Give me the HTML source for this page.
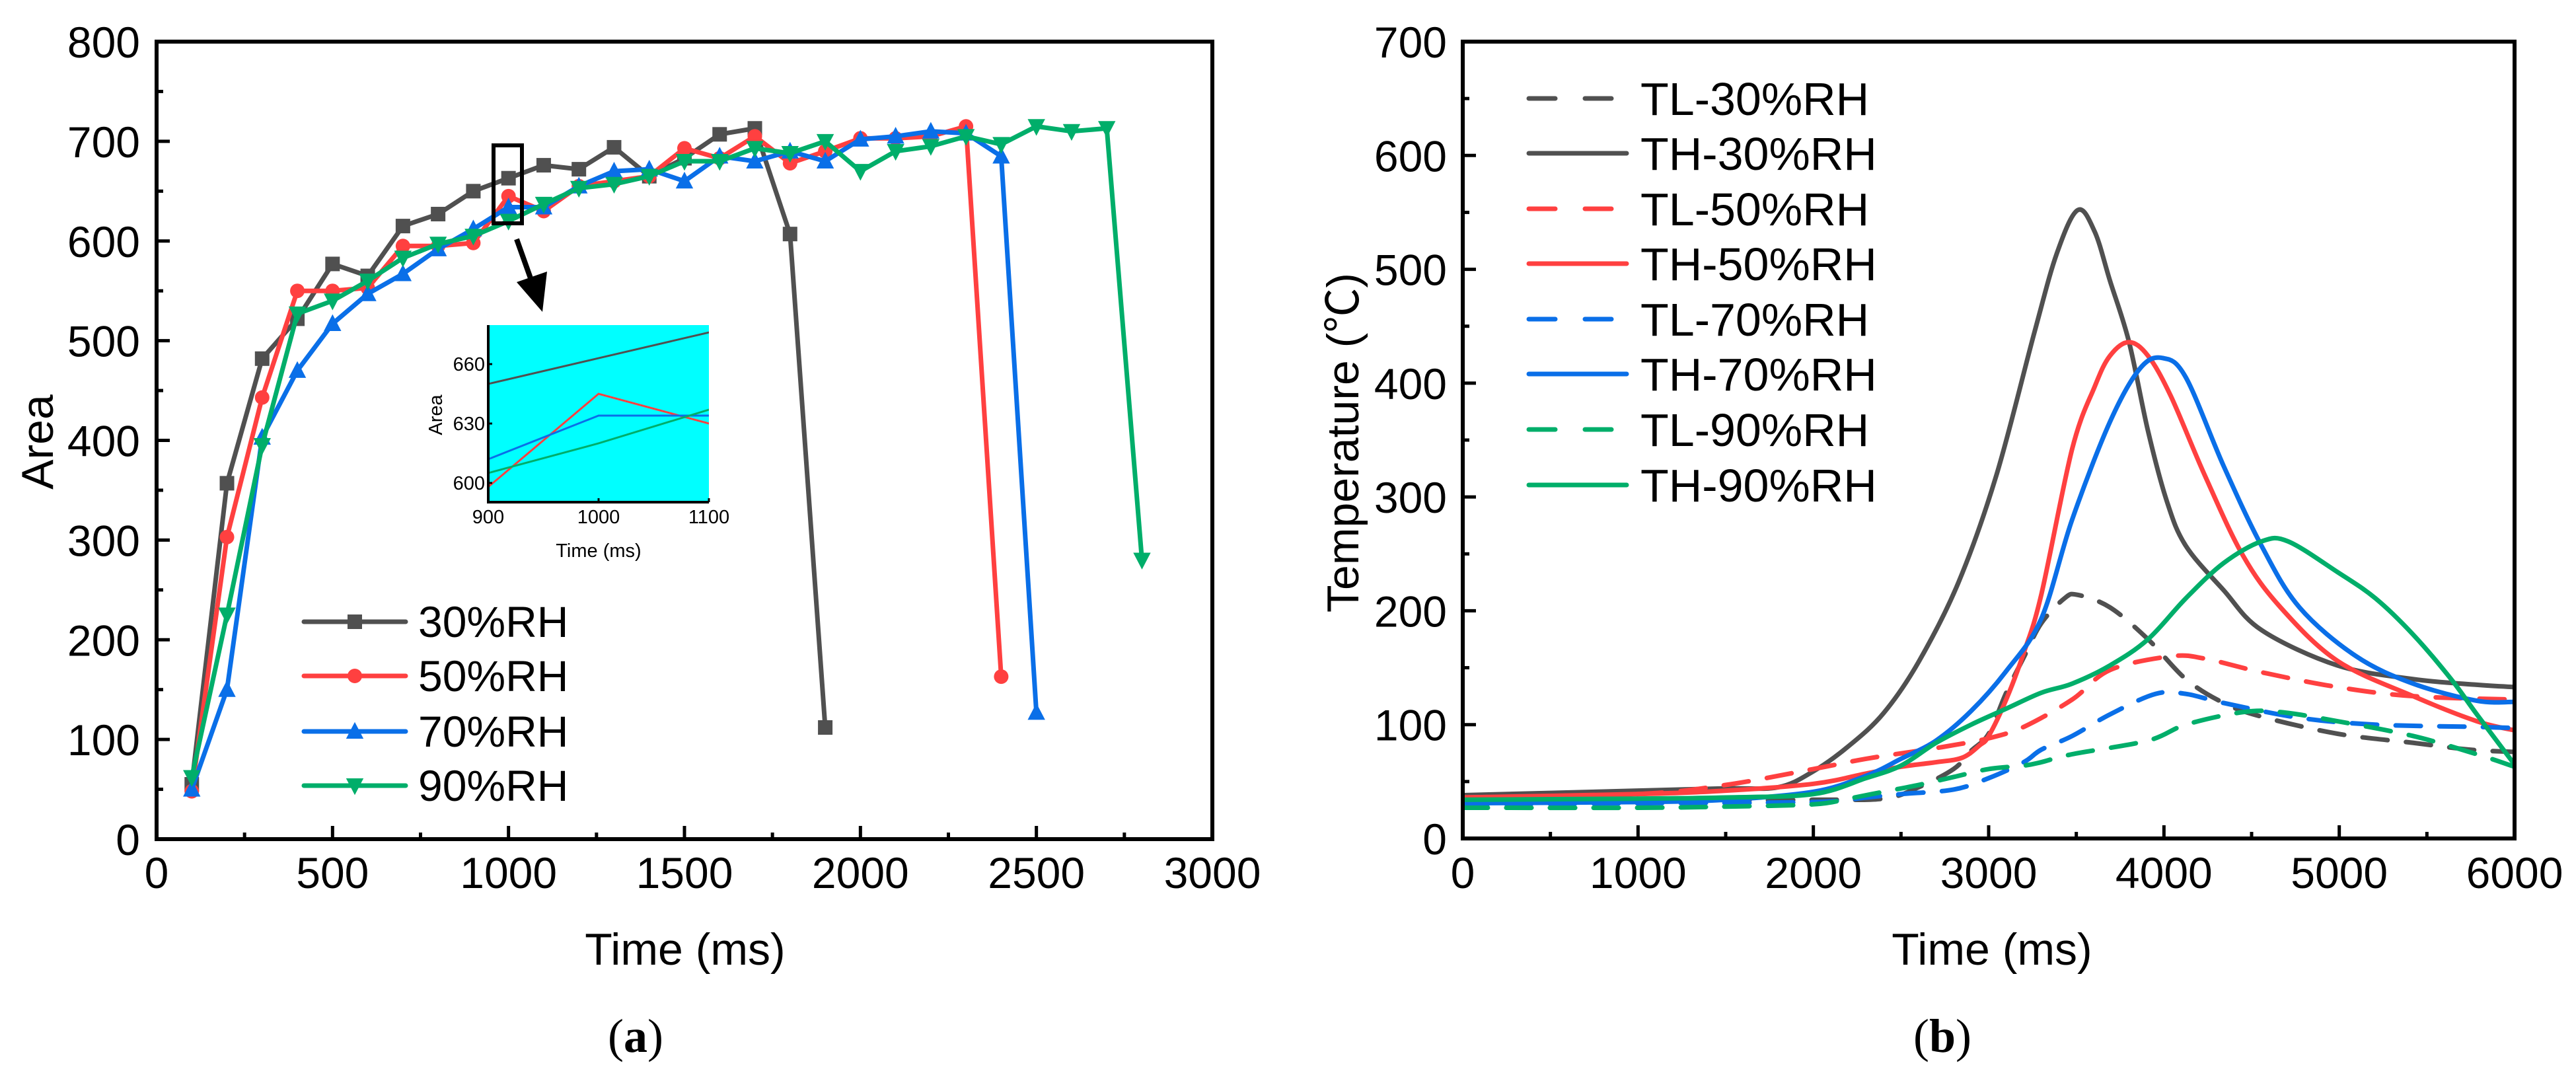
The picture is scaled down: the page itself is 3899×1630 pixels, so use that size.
<!DOCTYPE html>
<html><head><meta charset="utf-8">
<style>
html,body{margin:0;padding:0;background:#fff;width:3899px;height:1630px;overflow:hidden;}
svg{display:block;font-family:"Liberation Sans",Arial,sans-serif;}
</style></head>
<body>
<svg id="fig" width="3899" height="1630" viewBox="0 0 3899 1630" xmlns="http://www.w3.org/2000/svg">
<rect x="0" y="0" width="3899" height="1630" fill="#fff"/>
<g id="panelA"></g>
<g id="panelB"></g>
</svg>
<script>
// ---------- Panel (a) data ----------
const areaTimes30 = [100,200,300,400,500,600,700,800,900,1000,1100,1200,1300,1400,1500,1600,1700,1800,1900];
const area30 = [55,357,482,522,577,565,615,627,650,663,676,672,694,665,683,707,713,607,112];
const areaTimes50 = [100,200,300,400,500,600,700,800,900,1000,1100,1200,1300,1400,1500,1600,1700,1800,1900,2000,2100,2200,2300,2400];
const area50 = [48,303,443,550,550,553,595,595,598,645,630,655,660,665,693,683,705,678,690,703,703,705,715,163];
const areaTimes70 = [100,200,300,400,500,600,700,800,900,1000,1100,1200,1300,1400,1500,1600,1700,1800,1900,2000,2100,2200,2300,2400,2500];
const area70 = [50,150,403,470,517,547,567,592,612,634,634,655,670,672,660,685,680,690,680,702,705,710,708,685,127];
const areaTimes90 = [100,200,300,400,500,600,700,800,900,1000,1100,1200,1300,1400,1500,1600,1700,1800,1900,2000,2100,2200,2300,2400,2500,2600,2700,2800];
const area90 = [62,225,395,527,540,560,583,597,605,620,637,653,657,665,680,680,693,688,700,670,690,695,705,697,715,710,713,280];
const areaXTicks = [0,500,1000,1500,2000,2500,3000];
const areaYTicks = [0,100,200,300,400,500,600,700,800];
const areaLabels = ["30%RH","50%RH","70%RH","90%RH"];
const insetXTicks = [900,1000,1100];
const insetYTicks = [600,630,660];

// ---------- Panel (b) data ----------
const tTH30 = [0,1000,1500,1800,2000,2200,2400,2600,2828,3044,3260,3389,3508,3605,3692,3801,3909,4017,4125,4341,4557,4990,5422,5785,6000];
const vTH30 = [38,42,44,45,59,81,110,155,225,319,444,514,552,533,490,436,358,296,257,218,183,152,140,135,133];
const tTL30 = [0,1000,2000,2400,2600,2800,2900,3000,3100,3200,3300,3433,3508,3692,3909,4125,4341,4557,4990,5422,5746,6000];
const vTL30 = [33,33,34,35,45,61,77,92,128,159,189,211,214,203,175,140,119,107,92,84,78,76];
const tTH50 = [0,1000,1500,2000,2300,2500,2700,2850,2950,3000,3100,3200,3300,3476,3605,3692,3800,3909,4038,4233,4449,4665,4990,5422,5785,6000];
const vTH50 = [36,39,42,48,57,63,67,71,82,90,122,163,214,342,397,424,436,424,389,319,249,203,156,125,103,95];
const tTL50 = [0,1000,1500,2000,2300,2600,2800,3000,3200,3476,3692,4038,4233,4557,4990,5422,6000];
const vTL50 = [36,39,47,61,70,77,82,88,98,122,148,160,158,146,133,125,122];
const tTH70 = [0,1000,1500,2000,2300,2500,2700,2900,3100,3300,3476,3692,3864,3994,4125,4341,4557,4773,5097,5422,5785,6000];
const vTH70 = [31,32,34,41,55,70,86,112,147,193,280,366,413,422,405,327,257,203,160,136,121,120];
const tTL70 = [0,1000,2000,2300,2500,2800,3000,3200,3300,3476,3692,3951,4125,4341,4773,5206,5785,6000];
const vTL70 = [30,31,32,36,39,43,53,67,78,90,109,127,127,119,106,100,98,97];
const tTH90 = [0,1000,1500,2000,2300,2500,2700,2900,3100,3300,3476,3692,3909,4125,4341,4557,4708,4990,5206,5422,5638,5785,6000];
const vTH90 = [34,35,36,39,53,64,84,100,114,128,136,152,175,211,242,261,261,234,211,179,140,109,65];
const tTL90 = [0,1000,1500,2000,2200,2400,2600,2800,3000,3200,3300,3476,3909,4125,4449,4665,4990,5422,5785,6000];
const vTL90 = [27,27,28,30,35,41,47,54,61,64,67,74,86,100,111,111,103,90,74,63];
const tempXTicks = [0,1000,2000,3000,4000,5000,6000];
const tempYTicks = [0,100,200,300,400,500,600,700];
const tempLabels = ["TL-30%RH","TH-30%RH","TL-50%RH","TH-50%RH","TL-70%RH","TH-70%RH","TL-90%RH","TH-90%RH"];

const NS = "http://www.w3.org/2000/svg";
const C = {gray:"#505050", red:"#ff4040", blue:"#0a6fe8", green:"#00ae6a"};
function mk(tag, attrs, parent){
  const e = document.createElementNS(NS, tag);
  for (const k in attrs) e.setAttribute(k, attrs[k]);
  parent.appendChild(e);
  return e;
}

// ================= Panel A =================
const A = document.getElementById('panelA');
const aL=237, aR=1835, aT=63, aB=1270;
const ax = t => aL + (t-0)/(3000-0)*(aR-aL);
const ay = v => aB - (v-0)/(800-0)*(aB-aT);

for (let t=0; t<=3000; t+=250){
  const major = t%500===0;
  const tk = mk('line',{x1:ax(t),x2:ax(t),y1:aB,y2:aB-(major?20:10),stroke:'#000','stroke-width':5},A);
  
  
}
for (let v=0; v<=800; v+=50){
  const major = v%100===0;
  const tk = mk('line',{x1:aL,x2:aL+(major?20:10),y1:ay(v),y2:ay(v),stroke:'#000','stroke-width':5},A);
  
  
}
areaXTicks.forEach(t=>{
  const e = mk('text',{x:ax(t),y:1344,'font-size':66,'text-anchor':'middle'},A);
  e.textContent = t;
  
  
});
areaYTicks.forEach(v=>{
  const e = mk('text',{x:212,y:ay(v)+24,'font-size':66,'text-anchor':'end'},A);
  e.textContent = v;
  
  
});

const aSeries = [
  {t:areaTimes30, v:area30, c:C.gray, m:'square'},
  {t:areaTimes50, v:area50, c:C.red, m:'circle'},
  {t:areaTimes70, v:area70, c:C.blue, m:'up'},
  {t:areaTimes90, v:area90, c:C.green, m:'down'}
];
function marker(kind, x, y, c, parent, s){
  s = s||11;
  let e;
  if (kind==='square') e = mk('rect',{x:x-s,y:y-s,width:2*s,height:2*s,fill:c},parent);
  else if (kind==='circle') e = mk('circle',{cx:x,cy:y,r:s,fill:c},parent);
  else if (kind==='up') e = mk('polygon',{points:`${x},${y-s*1.3} ${x-s*1.2},${y+s} ${x+s*1.2},${y+s}`,fill:c},parent);
  else e = mk('polygon',{points:`${x},${y+s*1.3} ${x-s*1.2},${y-s} ${x+s*1.2},${y-s}`,fill:c},parent);
  return e;
}
aSeries.forEach((s,i)=>{
  const g = mk('g',{},A);
  
  
  const pts = s.t.map((t,j)=>ax(t)+','+ay(s.v[j])).join(' ');
  const pl = mk('polyline',{points:pts,fill:'none',stroke:s.c,'stroke-width':7,'stroke-linejoin':'round'},g);
  
  
  s.t.forEach((t,j)=>{
    const mm = marker(s.m, ax(t), ay(s.v[j]), s.c, g, 11);
    
    
  });
});

const fa = mk('rect',{x:aL,y:aT,width:aR-aL,height:aB-aT,fill:'none',stroke:'#000','stroke-width':6},A);



const hb = mk('rect',{x:747,y:220,width:43,height:118,fill:'none',stroke:'#000','stroke-width':6},A);


const arl = mk('line',{x1:782,y1:362,x2:808,y2:435,stroke:'#000','stroke-width':8},A);


const arh = mk('polygon',{points:'782,427 828,411 821,472',fill:'#000'},A);



const I = mk('g',{},A);


const iL=739, iR=1073, iT=492, iB=760;
const ix = t => iL + (t-900)/200*(iR-iL);
const iy = v => iB - (v-590.3)/(679.7-590.3)*(iB-iT);
mk('rect',{x:iL,y:iT,width:iR-iL,height:iB-iT,fill:'#00ffff'},I);
const clipId='insetClip';
const defs = mk('defs',{},I);
const cp = mk('clipPath',{id:clipId},defs);
mk('rect',{x:iL,y:iT,width:iR-iL,height:iB-iT},cp);
aSeries.forEach((s,i)=>{
  const pts = s.t.map((t,j)=>ix(t)+','+iy(s.v[j])).join(' ');
  const pl = mk('polyline',{points:pts,fill:'none',stroke:s.c,'stroke-width':3,'clip-path':'url(#'+clipId+')'},I);
  
  
});
mk('line',{x1:iL,x2:iL,y1:iT,y2:iB+2,stroke:'#000','stroke-width':4},I);
mk('line',{x1:iL-2,x2:iR,y1:iB,y2:iB,stroke:'#000','stroke-width':4},I);
insetXTicks.forEach(t=>{
  mk('line',{x1:ix(t),x2:ix(t),y1:iB,y2:iB-6,stroke:'#000','stroke-width':3},I);
  const e = mk('text',{x:ix(t),y:792,'font-size':29,'text-anchor':'middle'},I);
  e.textContent = t;
  
  
});
insetYTicks.forEach(v=>{
  mk('line',{x1:iL,x2:iL+6,y1:iy(v),y2:iy(v),stroke:'#000','stroke-width':3},I);
  const e = mk('text',{x:734,y:iy(v)+10,'font-size':29,'text-anchor':'end'},I);
  e.textContent = v;
  
  
});
{
  const e = mk('text',{x:906,y:843,'font-size':29,'text-anchor':'middle'},I);
  e.textContent='Time (ms)';
  
  
  const e2 = mk('text',{x:0,y:0,'font-size':29,'text-anchor':'middle',transform:'translate(669,628) rotate(-90)'},I);
  e2.textContent='Area';
  
  
}

const LA = mk('g',{},A);


const lgYa=[941,1023,1107,1189];
aSeries.forEach((s,i)=>{
  const g = mk('g',{},LA);
  
  
  mk('line',{x1:460,x2:614,y1:lgYa[i],y2:lgYa[i],stroke:s.c,'stroke-width':7,'stroke-linecap':'round'},g);
  marker(s.m,537,lgYa[i],s.c,g,11);
  const t = mk('text',{x:633,y:lgYa[i]+23,'font-size':66},g);
  t.textContent = areaLabels[i];
});

{
  const e = mk('text',{x:1037,y:1460,'font-size':68,'text-anchor':'middle'},A);
  e.textContent='Time (ms)';
  
  
  const e2 = mk('text',{x:0,y:0,'font-size':68,'text-anchor':'middle',transform:'translate(80,669) rotate(-90)'},A);
  e2.textContent='Area';
  
  
  const cap = mk('text',{x:962,y:1592,'font-size':72,'text-anchor':'middle','font-family':'Liberation Serif, serif'},A);
  cap.innerHTML='(<tspan font-weight="bold">a</tspan>)';
  
  
}

// ================= Panel B =================
const B = document.getElementById('panelB');
const bL=2214, bR=3806, bT=63, bB=1269;
const bx = t => bL + t/6000*(bR-bL);
const by = v => bB - v/700*(bB-bT);

for (let t=0; t<=6000; t+=500){
  const major = t%1000===0;
  const tk = mk('line',{x1:bx(t),x2:bx(t),y1:bB,y2:bB-(major?20:10),stroke:'#000','stroke-width':5},B);
  
  
}
for (let v=0; v<=700; v+=50){
  const major = v%100===0;
  const tk = mk('line',{x1:bL,x2:bL+(major?20:10),y1:by(v),y2:by(v),stroke:'#000','stroke-width':5},B);
  
  
}
tempXTicks.forEach(t=>{
  const e = mk('text',{x:bx(t),y:1344,'font-size':66,'text-anchor':'middle'},B);
  e.textContent = t;
  
  
});
tempYTicks.forEach(v=>{
  const e = mk('text',{x:2190,y:by(v)+24,'font-size':66,'text-anchor':'end'},B);
  e.textContent = v;
  
  
});

function smoothPath(ts, vs){
  const P = ts.map((t,i)=>[bx(t),by(vs[i])]);
  let d = 'M'+P[0][0]+','+P[0][1];
  for (let i=0;i<P.length-1;i++){
    const p0=P[Math.max(0,i-1)], p1=P[i], p2=P[i+1], p3=P[Math.min(P.length-1,i+2)];
    const c1=[p1[0]+(p2[0]-p0[0])/6, p1[1]+(p2[1]-p0[1])/6];
    const c2=[p2[0]-(p3[0]-p1[0])/6, p2[1]-(p3[1]-p1[1])/6];
    d += ` C${c1[0]},${c1[1]} ${c2[0]},${c2[1]} ${p2[0]},${p2[1]}`;
  }
  return d;
}
const bSeries = [
  {t:tTL30,v:vTL30,c:C.gray,dash:true},
  {t:tTH30,v:vTH30,c:C.gray,dash:false},
  {t:tTL50,v:vTL50,c:C.red,dash:true},
  {t:tTH50,v:vTH50,c:C.red,dash:false},
  {t:tTL70,v:vTL70,c:C.blue,dash:true},
  {t:tTH70,v:vTH70,c:C.blue,dash:false},
  {t:tTL90,v:vTL90,c:C.green,dash:true},
  {t:tTH90,v:vTH90,c:C.green,dash:false}
];
const bClip = mk('defs',{},B);
const bcp = mk('clipPath',{id:'bClip'},bClip);
mk('rect',{x:bL,y:bT,width:bR-bL,height:bB-bT},bcp);
bSeries.forEach((s,i)=>{
  const p = mk('path',{d:smoothPath(s.t,s.v),fill:'none',stroke:s.c,'stroke-width':7,'stroke-linecap':'round','clip-path':'url(#bClip)'},B);
  if (s.dash) p.setAttribute('stroke-dasharray','38 28');
  
  
});
const fb = mk('rect',{x:bL,y:bT,width:bR-bL,height:bB-bT,fill:'none',stroke:'#000','stroke-width':6},B);



const LB = mk('g',{},B);


const lgYb=[149,232,316,399,483,566,650,734];
bSeries.forEach((s,i)=>{
  const g = mk('g',{},LB);
  
  
  const l = mk('line',{x1:2314,x2:2462,y1:lgYb[i],y2:lgYb[i],stroke:s.c,'stroke-width':7,'stroke-linecap':'round'},g);
  if (s.dash) l.setAttribute('stroke-dasharray','40 45');
  const t = mk('text',{x:2483,y:lgYb[i]+25,'font-size':70},g);
  t.textContent = tempLabels[i];
});

{
  const e = mk('text',{x:3015,y:1460,'font-size':68,'text-anchor':'middle'},B);
  e.textContent='Time (ms)';
  
  
  const e2 = mk('text',{x:0,y:0,'font-size':68,'text-anchor':'middle',transform:'translate(2056,670) rotate(-90)'},B);
  e2.textContent='Temperature (℃)';
  e2.setAttribute('font-family','"Liberation Sans","Noto Sans CJK SC",sans-serif');
  
  
  const cap = mk('text',{x:2940,y:1592,'font-size':72,'text-anchor':'middle','font-family':'Liberation Serif, serif'},B);
  cap.innerHTML='(<tspan font-weight="bold">b</tspan>)';
  
  
}
</script>
</body></html>
